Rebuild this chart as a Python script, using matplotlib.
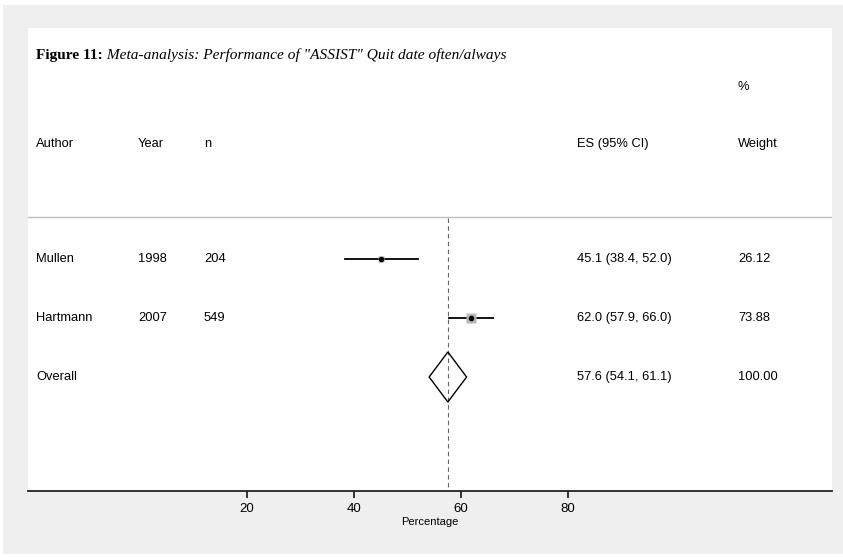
import matplotlib
matplotlib.use("Agg")
import matplotlib.pyplot as plt
from matplotlib.patches import Rectangle, Polygon

# study data
authors = ["Mullen", "Hartmann"]
years = [1998, 2007]
n_sizes = [204, 549]
es = [45.1, 62.0]
ci_low = [38.4, 57.9]
ci_high = [52.0, 66.0]
weights = [26.12, 73.88]

# pooled estimate
overall_es = 57.6
overall_low = 54.1
overall_high = 61.1
overall_weight = 100.00

xticks = [20, 40, 60, 80]

W, H = 843, 557
fig = plt.figure(figsize=(W / 100, H / 100), dpi=100)
fig.patch.set_facecolor("white")
fig.patches.append(Rectangle((3 / W, 3 / H), 1, 1 - 8 / H, transform=fig.transFigure,
                             facecolor="#efefef", edgecolor="none", zorder=-1))

ax_l, ax_r, ax_t, ax_b = 28, 832, 28, 490.5
ax = fig.add_axes([ax_l / W, 1 - ax_b / H, (ax_r - ax_l) / W, (ax_b - ax_t) / H])
ax.set_zorder(1)
ax.set_facecolor("white")

# x scale: 0 sits at pixel 139.7, 5.35 px per unit
px0, ppu = 139.7, 5.35
ax.set_xlim((ax_l - px0) / ppu, (ax_r - px0) / ppu)
ax.set_ylim(ax_b, ax_t)  # y in pixel rows, top down

for s in ["top", "left", "right"]:
    ax.spines[s].set_visible(False)
ax.spines["bottom"].set_linewidth(1.3)
ax.spines["bottom"].set_color("#222222")
ax.set_yticks([])
ax.set_xticks(xticks)
ax.tick_params(axis="x", direction="out", length=5, width=1.1, pad=4, labelsize=9.5)
for lab in ax.get_xticklabels():
    lab.set_family("Liberation Sans")
ax.set_xlabel("Percentage", fontsize=8, family="Liberation Sans", labelpad=1.5)


def col(px):
    return (px - ax_l) / (ax_r - ax_l)


sans_ax = dict(family="Liberation Sans", fontsize=9.3, va="center")
ytr = ax.get_yaxis_transform()

# title: bold label followed by italic caption
t1 = fig.text(36 / W, 1 - 55 / H, "Figure 11:", family="Liberation Serif", weight="bold",
              fontsize=11.1, va="center", zorder=2)
fig.canvas.draw()
bb = t1.get_window_extent()
fig.text(bb.x1 / W, 1 - 55 / H, ' Meta-analysis: Performance of "ASSIST" Quit date often/always',
         family="Liberation Serif", style="italic", fontsize=11.1, va="center", zorder=2)

# column positions (px)
c_author, c_year, c_n, c_es, c_wt = 36, 138, 204, 577, 738

# headers
hdr_y = 144
ax.text(col(c_author), hdr_y, "Author", transform=ytr, **sans_ax)
ax.text(col(c_year), hdr_y, "Year", transform=ytr, **sans_ax)
ax.text(col(c_n), hdr_y, "n", transform=ytr, **sans_ax)
ax.text(col(c_es), hdr_y, "ES (95% CI)", transform=ytr, **sans_ax)
ax.text(col(c_wt), hdr_y, "Weight", transform=ytr, **sans_ax)
ax.text(col(c_wt), 87, "%", transform=ytr, **sans_ax)

ax.axhline(216.5, color="#bdbdbd", lw=1)

rows_y = [259, 318]
overall_y = 377
max_side = 10.7  # px side of the biggest box

# reference line at pooled estimate
ax.plot([overall_es, overall_es], [218, ax_b], color="#666666", lw=0.8,
        dashes=(4, 3), zorder=1)

for i in range(len(authors)):
    y = rows_y[i]
    ax.plot([ci_low[i], ci_high[i]], [y, y], color="black", lw=1.3, zorder=2)
    side = max_side * (weights[i] / max(weights)) ** 0.5
    ax.plot(es[i], y, marker="s", ms=side * 0.72, color="#b8b8b8", mec="none", zorder=2)
    ax.plot(es[i], y, marker="o", ms=3, color="black", zorder=3)
    ax.text(col(c_author), y, authors[i], transform=ytr, **sans_ax)
    ax.text(col(c_year), y, str(years[i]), transform=ytr, **sans_ax)
    ax.text(col(c_n), y, str(n_sizes[i]), transform=ytr, **sans_ax)
    ax.text(col(c_es), y, "%.1f (%.1f, %.1f)" % (es[i], ci_low[i], ci_high[i]),
            transform=ytr, **sans_ax)
    ax.text(col(c_wt), y, "%.2f" % weights[i], transform=ytr, **sans_ax)

# pooled diamond
half_h = 25
diamond = Polygon([(overall_low, overall_y), (overall_es, overall_y - half_h),
                   (overall_high, overall_y), (overall_es, overall_y + half_h)],
                  closed=True, facecolor="none", edgecolor="black", lw=1, zorder=3)
ax.add_patch(diamond)
ax.text(col(c_author), overall_y, "Overall", transform=ytr, **sans_ax)
ax.text(col(c_es), overall_y, "%.1f (%.1f, %.1f)" % (overall_es, overall_low, overall_high),
        transform=ytr, **sans_ax)
ax.text(col(c_wt), overall_y, "%.2f" % overall_weight, transform=ytr, **sans_ax)

fig.savefig("out.png", dpi=100, facecolor=fig.get_facecolor())
